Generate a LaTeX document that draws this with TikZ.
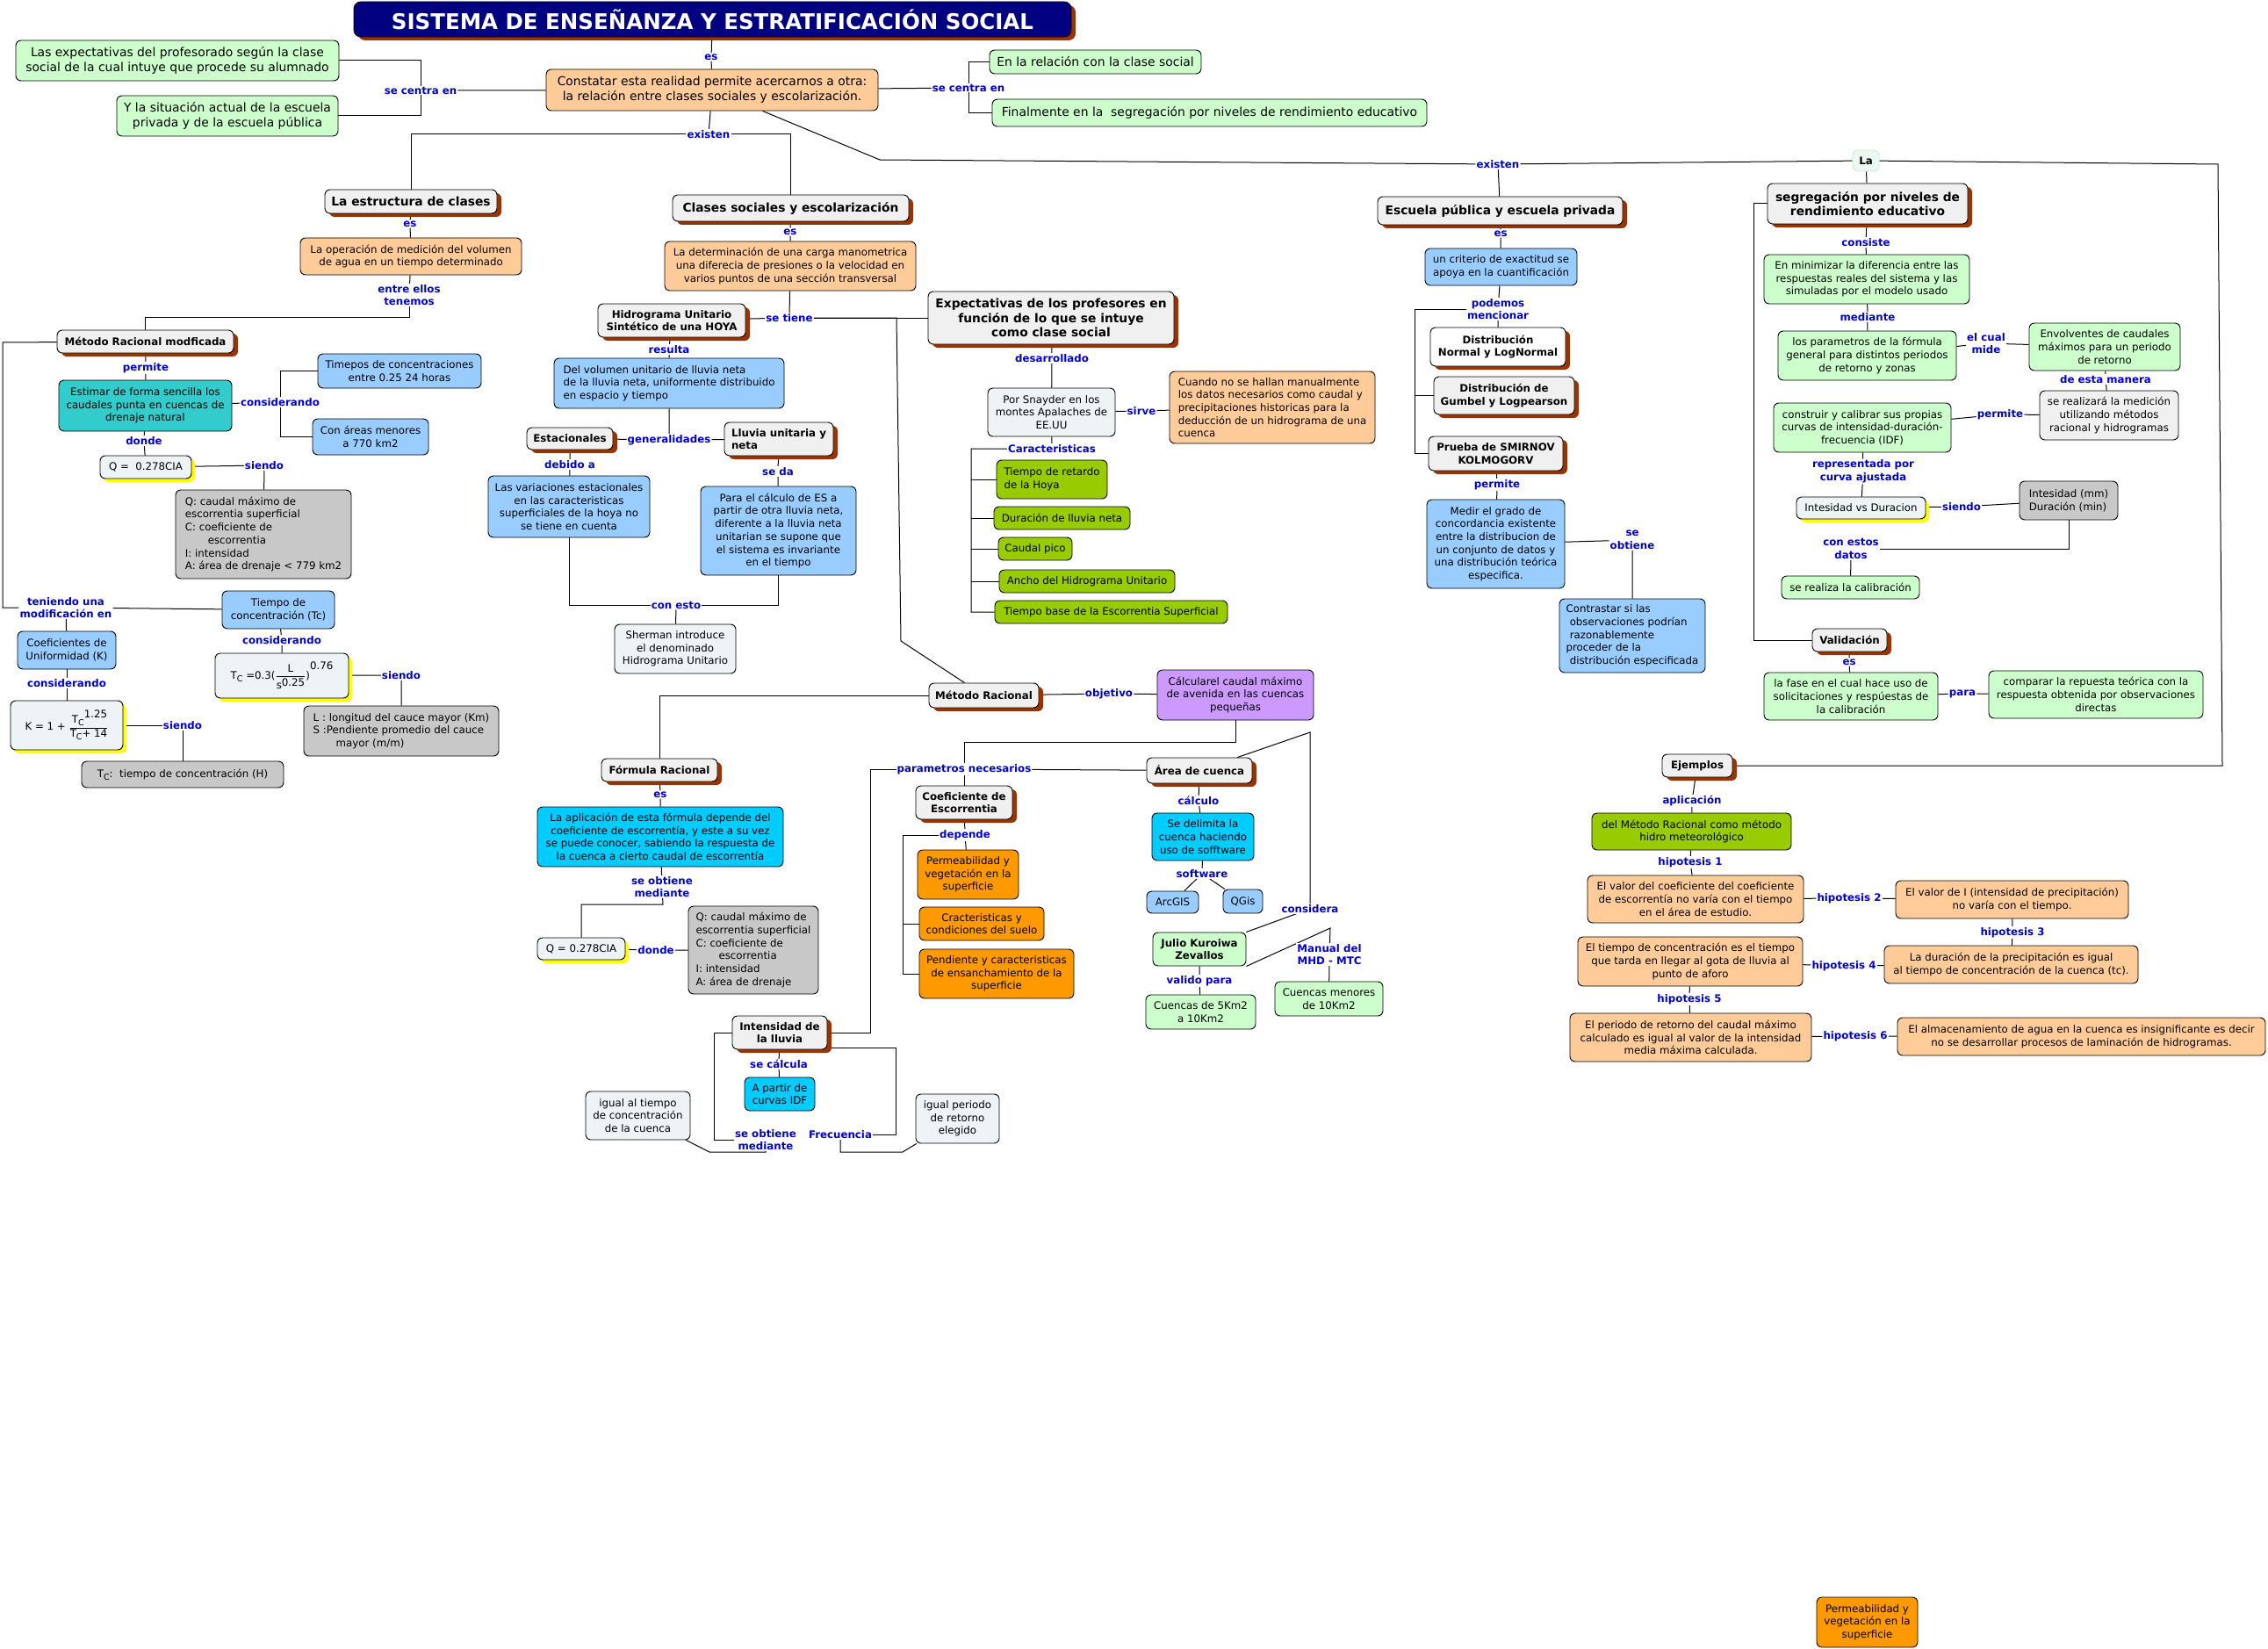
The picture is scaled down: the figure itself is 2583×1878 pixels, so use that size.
\documentclass[tikz,border=0pt]{standalone}
\usepackage{amsmath}
\usepackage{fontspec}
\setmainfont{DejaVu Sans}
\usetikzlibrary{shadows,backgrounds}
\definecolor{ttlnavy}{RGB}{0,0,128}
\definecolor{shbrown}{RGB}{153,51,0}
\definecolor{shyel}{RGB}{255,255,0}
\definecolor{labblue}{RGB}{0,0,204}
\definecolor{cptgray}{RGB}{240,240,240}
\definecolor{cgreen}{RGB}{204,255,204}
\definecolor{corange}{RGB}{255,204,153}
\definecolor{cblue}{RGB}{153,204,255}
\definecolor{cteal}{RGB}{51,204,204}
\definecolor{cgray}{RGB}{200,200,200}
\definecolor{cpale}{RGB}{238,244,245}
\definecolor{cylg}{RGB}{153,204,0}
\definecolor{cdorange}{RGB}{255,153,0}
\definecolor{ccyan}{RGB}{0,204,255}
\definecolor{cpurple}{RGB}{204,153,255}
\definecolor{lapale}{RGB}{236,248,241}
\definecolor{laedge}{RGB}{200,238,210}
\newcommand\cmnorm{\fontsize{11.8}{14.7}\selectfont}
\newcommand\cmbig{\fontsize{13.9}{17}\selectfont}
\newcommand\cmcon{\fontsize{13.8}{16.8}\selectfont\bfseries}
\newcommand\cmttl{\fontsize{24.5}{28}\selectfont\bfseries}
\newcommand\cmsubc{\raisebox{-3pt}{\fontsize{9.5}{10}\selectfont C}}

\begin{document}
\begin{tikzpicture}[x=1pt, y=-1pt,
    bx/.style={draw=black, line width=0.9pt, rounded corners=6pt, align=center,
               inner xsep=3pt, inner ysep=2pt, font=\cmnorm},
    bsh/.style={drop shadow={shadow xshift=5pt, shadow yshift=-4pt, fill=shbrown, opacity=1}},
    ysh/.style={drop shadow={shadow xshift=4pt, shadow yshift=-4pt, fill=shyel, opacity=1}},
    cpt/.style={bx, fill=cptgray, font=\cmnorm\bfseries, bsh},
    cptb/.style={cpt, font=\cmcon},
    grn/.style={bx, fill=cgreen},
    org/.style={bx, fill=corange},
    blu/.style={bx, fill=cblue},
    gry/.style={bx, fill=cgray, align=left},
    pal/.style={bx, fill=cpale},
    ylg/.style={bx, fill=cylg},
    dor/.style={bx, fill=cdorange},
    cyn/.style={bx, fill=ccyan},
    lab/.style={font=\cmnorm\bfseries, text=labblue, fill=white, inner sep=1pt, align=center},
    link/.style={draw=black, line width=1pt}]
  \useasboundingbox (0,0) rectangle (2583,1878);

  % titulo y primer nivel
  \node[bx, fill=ttlnavy, text=white, font=\cmttl, rounded corners=8pt, bsh, minimum width=817pt, minimum height=40pt] (title) at (811.5,22) {SISTEMA DE ENSEÑANZA Y ESTRATIFICACIÓN SOCIAL};
  \node[grn, font=\cmbig, minimum width=368pt, minimum height=46pt] (exp1) at (202,69) {Las expectativas del profesorado según la clase\\social de la cual intuye que procede su alumnado};
  \node[grn, font=\cmbig, minimum width=252pt, minimum height=46pt] (sit) at (259,132) {Y la situación actual de la escuela\\privada y de la escuela pública};
  \node[org, font=\cmbig, minimum width=378pt, minimum height=47pt] (const) at (811,102.5) {Constatar esta realidad permite acercarnos a otra:\\la relación entre clases sociales y escolarización.};
  \node[grn, font=\cmbig, minimum width=241pt, minimum height=27pt] (rel) at (1247.5,70.5) {En la relación con la clase social};
  \node[grn, font=\cmbig, minimum width=495pt, minimum height=31pt] (fin) at (1377.5,128.5) {Finalmente en la\ \ segregación por niveles de rendimiento educativo};
  \node[lab] (les) at (810,65) {es};
  \node[lab] (lcentra) at (479,103) {se centra en};
  \node[lab] (rcentra) at (1103,100) {se centra en};
  \node[lab] (lexist) at (807,153) {existen};
  \node[lab] (rexist) at (1706,187) {existen};
  \node[cptb, minimum width=196pt, minimum height=27pt] (estr) at (468,229.5) {La estructura de clases};
  \node[cptb, minimum width=269pt, minimum height=30pt] (clas) at (900.5,237) {Clases sociales y escolarización};
  \node[cptb, minimum width=279pt, minimum height=32pt] (escu) at (1708.5,240) {Escuela pública y escuela privada};
  \node[bx, fill=lapale, draw=laedge, font=\cmnorm\bfseries, minimum width=30pt, minimum height=24pt] (lanode) at (2125,183) {La};
  \node[cptb, minimum width=228pt, minimum height=46pt] (segr) at (2127,232) {segregación por niveles de\\rendimiento educativo};

  % columna izquierda
  \node[lab] (les1) at (467,255) {es};
  \node[org, minimum width=252pt, minimum height=42pt] (operac) at (468,292) {La operación de medición del volumen\\de agua en un tiempo determinado};
  \node[lab] (lentre) at (466,336) {entre ellos\\tenemos};
  \node[cpt, minimum width=201pt, minimum height=26pt] (mrm) at (165.5,389) {Método Racional modficada};
  \node[lab] (lpermite1) at (166,419) {permite};
  \node[bx, fill=cteal, minimum width=197pt, minimum height=58pt] (estim) at (165.5,462) {Estimar de forma sencilla los\\caudales punta en cuencas de\\drenaje natural};
  \node[lab] (lconsid1) at (319,458) {considerando};
  \node[blu, minimum width=186pt, minimum height=39pt] (timep) at (455,422.5) {Timepos de concentraciones\\entre 0.25 24 horas};
  \node[blu, minimum width=132pt, minimum height=41pt] (conar) at (422,497.5) {Con áreas menores\\a 770 km2};
  \node[lab] (ldonde1) at (164,502) {donde};
  \node[pal, ysh, minimum width=104pt, minimum height=26pt] (q1) at (166,532) {Q =\ \ 0.278CIA};
  \node[lab] (lsiendo1) at (301,530) {siendo};
  \node[gry, minimum width=200pt, minimum height=101pt] (qdef1) at (300,608.5) {Q: caudal máximo de\\escorrentia superficial\\C: coeficiente de\\\hspace*{2.2em}escorrentia\\I: intensidad\\A: área de drenaje < 779 km2};
  \node[lab] (lteniendo) at (75,692) {teniendo una\\modificación en};
  \node[blu, minimum width=128pt, minimum height=43pt] (tconc) at (317,694.5) {Tiempo de\\concentración (Tc)};
  \node[lab] (lconsid2) at (321,729) {considerando};
  \node[pal, ysh, minimum width=152pt, minimum height=51pt] (tcform) at (321,769.5) {T\cmsubc\ =0.3($\dfrac{\text{L}}{\text{\raisebox{-3pt}{s}0.25}}$)\raisebox{11pt}{0.76}};
  \node[lab] (lsiendo2) at (457,769) {siendo};
  \node[gry, minimum width=222pt, minimum height=57pt] (ldef) at (457,832.5) {L : longitud del cauce mayor (Km)\\S :Pendiente promedio del cauce\\\hspace*{2.2em}mayor (m/m)};
  \node[blu, minimum width=112pt, minimum height=43pt] (coefu) at (76,740.5) {Coeficientes de\\Uniformidad (K)};
  \node[lab] (lconsid3) at (76,778) {considerando};
  \node[pal, ysh, minimum width=128pt, minimum height=56pt] (kform) at (76,826) {K = 1 + $\dfrac{\text{\,T\cmsubc\raisebox{6pt}{1.25}}}{\text{T\cmsubc+ 14}}$};
  \node[lab] (lsiendo3) at (208,826) {siendo};
  \node[gry, minimum width=230pt, minimum height=30pt] (tcdef) at (208,882) {T\cmsubc:\ \ tiempo de concentración (H)};

  % columna central
  \node[lab] (les2) at (900,264) {es};
  \node[org, minimum width=286pt, minimum height=56pt] (determ) at (900,303) {La determinación de una carga manometrica\\una diferecia de presiones o la velocidad en\\varios puntos de una sección transversal};
  \node[lab] (lsetiene) at (899,362) {se tiene};
  \node[cpt, minimum width=168pt, minimum height=38pt] (hidro) at (765,365) {Hidrograma Unitario\\Sintético de una HOYA};
  \node[cptb, minimum width=280pt, minimum height=60pt] (expec) at (1197,362) {Expectativas de los profesores en\\función de lo que se intuye\\como clase social};
  \node[lab] (lresulta) at (762,398) {resulta};
  \node[blu, align=left, minimum width=262pt, minimum height=57pt] (delvol) at (762,436.5) {Del volumen unitario de lluvia neta\\de la lluvia neta, uniformente distribuido\\en espacio y tiempo};
  \node[lab] (lgeneral) at (762,501) {generalidades};
  \node[cpt, minimum width=98pt, minimum height=25pt] (estac) at (649,499.5) {Estacionales};
  \node[cpt, align=left, minimum width=124pt, minimum height=38pt] (lluvia) at (887,500) {Lluvia unitaria y\\neta};
  \node[lab] (ldebido) at (649,529) {debido a};
  \node[blu, minimum width=184pt, minimum height=70pt] (variac) at (648,577) {Las variaciones estacionales\\en las caracteristicas\\superficiales de la hoya no\\se tiene en cuenta};
  \node[lab] (lseda) at (886,537) {se da};
  \node[blu, minimum width=177pt, minimum height=101pt] (paracalc) at (886.5,604.5) {Para el cálculo de ES a\\partir de otra lluvia neta,\\diferente a la lluvia neta\\unitarian se supone que\\el sistema es invariante\\en el tiempo};
  \node[lab] (lconesto) at (770,689) {con esto};
  \node[pal, minimum width=138pt, minimum height=56pt] (sherman) at (769,739) {Sherman introduce\\el denominado\\Hidrograma Unitario};
  \node[lab] (ldesarr) at (1198,408) {desarrollado};
  \node[pal, minimum width=145pt, minimum height=55pt] (snay) at (1197.5,469.5) {Por Snayder en los\\montes Apalaches de\\EE.UU};
  \node[lab] (lsirve) at (1300,468) {sirve};
  \node[org, align=left, minimum width=234pt, minimum height=82pt] (cuando) at (1449,464) {Cuando no se hallan manualmente\\los datos necesarios como caudal y\\precipitaciones historicas para la\\deducción de un hidrograma de una\\cuenca};
  \node[lab] (lcaract) at (1198,511) {Caracteristicas};
  \node[ylg, align=left, minimum width=126pt, minimum height=44pt] (c1) at (1198,546) {Tiempo de retardo\\de la Hoya};
  \node[ylg, minimum width=155pt, minimum height=26pt] (c2) at (1209.5,590) {Duración de lluvia neta};
  \node[ylg, minimum width=84pt, minimum height=26pt] (c3) at (1179,625) {Caudal pico};
  \node[ylg, minimum width=200pt, minimum height=26pt] (c4) at (1238,662) {Ancho del Hidrograma Unitario};
  \node[ylg, minimum width=265pt, minimum height=26pt] (c5) at (1265.5,697) {Tiempo base de la Escorrentia Superficial};
  \node[cpt, minimum width=125pt, minimum height=28pt] (metr) at (1120.5,792) {Método Racional};
  \node[lab] (lobjet) at (1263,790) {objetivo};
  \node[bx, fill=cpurple, minimum width=178pt, minimum height=57pt] (calcul) at (1407,791.5) {Cálcularel caudal máximo\\de avenida en las cuencas\\pequeñas};
  \node[lab] (lparam) at (1098,876) {parametros necesarios};
  \node[cpt, minimum width=132pt, minimum height=26pt] (formr) at (751,877) {Fórmula Racional};
  \node[lab] (les5) at (752,905) {es};
  \node[cyn, minimum width=280pt, minimum height=68pt] (aplic) at (752,953) {La aplicación de esta fórmula depende del\\coeficiente de escorrentía, y este a su vez\\se puede conocer, sabiendo la respuesta de\\la cuenca a cierto caudal de escorrentía};
  \node[lab] (lseobt2) at (754,1010) {se obtiene\\mediante};
  \node[pal, ysh, minimum width=100pt, minimum height=25pt] (q2) at (662,1080.5) {Q = 0.278CIA};
  \node[lab] (ldonde2) at (747,1082) {donde};
  \node[gry, minimum width=148pt, minimum height=100pt] (qdef2) at (858,1082) {Q: caudal máximo de\\escorrentia superficial\\C: coeficiente de\\\hspace*{2.2em}escorrentia\\I: intensidad\\A: área de drenaje};
  \node[cpt, minimum width=110pt, minimum height=38pt] (coefe) at (1098,914) {Coeficiente de\\Escorrentia};
  \node[lab] (ldepende) at (1099,951) {depende};
  \node[dor, minimum width=115pt, minimum height=56pt] (perm) at (1102.5,996) {Permeabilidad y\\vegetación en la\\superficie};
  \node[dor, minimum width=142pt, minimum height=38pt] (cract) at (1118,1052) {Cracteristicas y\\condiciones del suelo};
  \node[dor, minimum width=176pt, minimum height=56pt] (pend) at (1135,1109) {Pendiente y caracteristicas\\de ensanchamiento de la\\superficie};
  \node[cpt, minimum width=108pt, minimum height=38pt] (intens) at (888,1176) {Intensidad de\\la lluvia};
  \node[lab] (lsecalc) at (887,1212) {se cálcula};
  \node[cyn, minimum width=80pt, minimum height=38pt] (apart) at (888,1246) {A partir de\\curvas IDF};
  \node[lab] (lseobt3) at (872,1298) {se obtiene\\mediante};
  \node[pal, minimum width=119pt, minimum height=55pt] (igualt) at (726.5,1270.5) {igual al tiempo\\de concentración\\de la cuenca};
  \node[lab] (lfrec) at (957,1292) {Frecuencia};
  \node[pal, minimum width=95pt, minimum height=56pt] (igualp) at (1090.5,1274) {igual periodo\\de retorno\\elegido};
  \node[cpt, minimum width=120pt, minimum height=29pt] (area) at (1366,877.5) {Área de cuenca};
  \node[lab] (lcalculo) at (1365,912) {cálculo};
  \node[cyn, minimum width=116pt, minimum height=54pt] (delim) at (1370,953) {Se delimita la\\cuenca haciendo\\uso de sofftware};
  \node[lab] (lsoft) at (1369,995) {software};
  \node[blu, minimum width=59pt, minimum height=25pt] (arcgis) at (1335.5,1027.5) {ArcGIS};
  \node[blu, minimum width=45pt, minimum height=27pt] (qgis) at (1415.5,1026.5) {QGis};
  \node[lab] (lconsid) at (1492,1035) {considera};
  \node[grn, font=\cmnorm\bfseries, minimum width=106pt, minimum height=38pt] (julio) at (1366,1081) {Julio Kuroiwa\\Zevallos};
  \node[lab] (lvalido) at (1366,1117) {valido para};
  \node[grn, minimum width=125pt, minimum height=39pt] (cuen5) at (1367.5,1152.5) {Cuencas de 5Km2\\a 10Km2};
  \node[lab] (lmanual) at (1514,1087) {Manual del\\MHD - MTC};
  \node[grn, minimum width=123pt, minimum height=39pt] (cuen10) at (1513.5,1137.5) {Cuencas menores\\de 10Km2};

  % escuela publica y privada
  \node[lab] (les3) at (1709,266) {es};
  \node[blu, minimum width=173pt, minimum height=42pt] (criter) at (1709.5,304) {un criterio de exactitud se\\apoya en la cuantificación};
  \node[lab] (lpodemos) at (1706,352) {podemos\\mencionar};
  \node[bx, fill=white, font=\cmnorm\bfseries, bsh, minimum width=154pt, minimum height=44pt] (dnorm) at (1706,395) {Distribución\\Normal y LogNormal};
  \node[cpt, minimum width=160pt, minimum height=43pt] (dgumb) at (1713,450.5) {Distribución de\\Gumbel y Logpearson};
  \node[cpt, minimum width=153pt, minimum height=39pt] (smir) at (1703.5,516.5) {Prueba de SMIRNOV\\KOLMOGORV};
  \node[lab] (lpermite3) at (1705,552) {permite};
  \node[blu, minimum width=157pt, minimum height=101pt] (medir) at (1703.5,619.5) {Medir el grado de\\concordancia existente\\entre la distribucion de\\un conjunto de datos y\\una distribución teórica\\especifica.};
  \node[lab] (lseobt) at (1859,615) {se\\obtiene};
  \node[blu, align=left, minimum width=166pt, minimum height=84pt] (contr) at (1859,724) {Contrastar si las\\\hspace*{0.35em}observaciones podrían\\\hspace*{0.35em}razonablemente\\proceder de la\\\hspace*{0.35em}distribución especificada};

  % segregacion
  \node[lab] (lconsiste) at (2125,276) {consiste};
  \node[grn, minimum width=234pt, minimum height=56pt] (minim) at (2126,318) {En minimizar la diferencia entre las\\respuestas reales del sistema y las\\simuladas por el modelo usado};
  \node[lab] (lmediante) at (2127,361) {mediante};
  \node[grn, minimum width=203pt, minimum height=56pt] (param) at (2126.5,405) {los parametros de la fórmula\\general para distintos periodos\\de retorno y zonas};
  \node[lab] (lcualmide) at (2262,391) {el cual\\mide};
  \node[grn, minimum width=172pt, minimum height=54pt] (envol) at (2397,395) {Envolventes de caudales\\máximos para un periodo\\de retorno};
  \node[lab] (lmanera) at (2398,432) {de esta manera};
  \node[bx, fill=cptgray, minimum width=158pt, minimum height=56pt] (realiz) at (2402,473) {se realizará la medición\\utilizando métodos\\racional y hidrogramas};
  \node[grn, minimum width=202pt, minimum height=56pt] (constr) at (2121,487) {construir y calibrar sus propias\\curvas de intensidad-duración-\\frecuencia (IDF)};
  \node[lab] (lpermite2) at (2278,472) {permite};
  \node[lab] (lrepres) at (2122,537) {representada por\\curva ajustada};
  \node[pal, ysh, minimum width=147pt, minimum height=25pt] (ivsd) at (2119.5,578.5) {Intesidad vs Duracion};
  \node[lab] (lsiendo4) at (2234,577) {siendo};
  \node[gry, minimum width=112pt, minimum height=44pt] (intmm) at (2356,570) {Intesidad (mm)\\Duración (min)};
  \node[lab] (lconestos) at (2108,625) {con estos\\datos};
  \node[grn, minimum width=157pt, minimum height=26pt] (calib) at (2107.5,669) {se realiza la calibración};
  \node[cpt, minimum width=85pt, minimum height=26pt] (valid) at (2106.5,729) {Validación};
  \node[lab] (les4) at (2106,754) {es};
  \node[grn, minimum width=198pt, minimum height=54pt] (fase) at (2108,793) {la fase en el cual hace uso de\\solicitaciones y respúestas de\\la calibración};
  \node[lab] (lpara) at (2235,790) {para};
  \node[grn, minimum width=244pt, minimum height=54pt] (compar) at (2387,791) {comparar la repuesta teórica con la\\respuesta obtenida por observaciones\\directas};

  % ejemplos e hipotesis
  \node[cpt, minimum width=80pt, minimum height=26pt] (ejem) at (1933,872) {Ejemplos};
  \node[lab] (laplic) at (1927,912) {aplicación};
  \node[ylg, minimum width=227pt, minimum height=42pt] (ejmr) at (1926.5,947) {del Método Racional como método\\hidro meteorológico};
  \node[lab] (lh1) at (1925,982) {hipotesis 1};
  \node[org, minimum width=246pt, minimum height=54pt] (h1box) at (1931,1024) {El valor del coeficiente del coeficiente\\de escorrentía no varía con el tiempo\\en el área de estudio.};
  \node[lab] (lh2) at (2106,1023) {hipotesis 2};
  \node[org, minimum width=265pt, minimum height=43pt] (h2box) at (2291.5,1024.5) {El valor de I (intensidad de precipitación)\\no varía con el tiempo.};
  \node[lab] (lh3) at (2292,1062) {hipotesis 3};
  \node[org, minimum width=289pt, minimum height=43pt] (h3box) at (2290.5,1098.5) {La duración de la precipitación es igual\\al tiempo de concentración de la cuenca (tc).};
  \node[lab] (lh4) at (2100,1100) {hipotesis 4};
  \node[org, minimum width=256pt, minimum height=56pt] (h4box) at (1925,1095) {El tiempo de concentración es el tiempo\\que tarda en llegar al gota de lluvia al\\punto de aforo};
  \node[lab] (lh5) at (1924,1138) {hipotesis 5};
  \node[org, minimum width=275pt, minimum height=55pt] (h5box) at (1925.5,1181.5) {El periodo de retorno del caudal máximo\\calculado es igual al valor de la intensidad\\media máxima calculada.};
  \node[lab] (lh6) at (2113,1180) {hipotesis 6};
  \node[org, minimum width=419pt, minimum height=43pt] (h6box) at (2370.5,1180.5) {El almacenamiento de agua en la cuenca es insignificante es decir\\no se desarrollar procesos de laminación de hidrogramas.};
  \node[dor, minimum width=115pt, minimum height=57pt] (permbr) at (2126.5,1847.5) {Permeabilidad y\\vegetación en la\\superficie};

  % puntos de quiebre
  \coordinate (kA) at (1002,182);
  \coordinate (kB) at (2526,187);
  \coordinate (kC) at (2531,872);
  \coordinate (kD) at (1997,232);
  \coordinate (kE) at (1611,352);
  \coordinate (kF) at (466,361);
  \coordinate (kG) at (3,390);
  \coordinate (kH) at (1021,362);
  \coordinate (kI) at (1026,730);
  \coordinate (kJ) at (1106,511);
  \coordinate (kK) at (1098,845);
  \coordinate (kL) at (991,876);
  \coordinate (kM) at (755,1030);
  \coordinate (kN) at (1028,951);
  \coordinate (kO) at (813,1176);
  \coordinate (kP) at (808,1312);
  \coordinate (kQ) at (1020,1193);
  \coordinate (kR) at (1028,1312);
  \coordinate (kS) at (1492,834);
  \coordinate (kT) at (1515,1057);

  \begin{pgfonlayer}{background}
    \fill[white] (0,0) rectangle (2583,1878);
    % arriba
    \draw[link] (title) -- (les) -- (const);
    \draw[link] (exp1.east) -| (lcentra);
    \draw[link] (sit.east) -| (lcentra);
    \draw[link] (lcentra) -- (const);
    \draw[link] (const) -- (rcentra);
    \draw[link] (rel.west) -| (rcentra);
    \draw[link] (fin.west) -| (rcentra);
    \draw[link] (const) -- (lexist);
    \draw[link] (lexist) -| (estr);
    \draw[link] (lexist) -| (clas);
    \draw[link] (const) -- (kA) -- (rexist);
    \draw[link] (rexist) -- (escu);
    \draw[link] (rexist) -- (lanode);
    \draw[link] (lanode) -- (segr);
    \draw[link] (lanode) -- (kB) -- (kC) -- (ejem);
    % izquierda
    \draw[link] (estr) -- (les1) -- (operac) -- (lentre);
    \draw[link] (lentre) -- (kF) -| (mrm);
    \draw[link] (mrm) -- (kG) |- (lteniendo);
    \draw[link] (lteniendo) -- (tconc);
    \draw[link] (lteniendo) -- (coefu);
    \draw[link] (mrm) -- (lpermite1) -- (estim) -- (ldonde1) -- (q1);
    \draw[link] (estim) -- (lconsid1);
    \draw[link] (lconsid1) |- (timep);
    \draw[link] (lconsid1) |- (conar);
    \draw[link] (q1) -- (lsiendo1) -- (qdef1);
    \draw[link] (tconc) -- (lconsid2) -- (tcform) -- (lsiendo2) -- (ldef);
    \draw[link] (coefu) -- (lconsid3) -- (kform) -- (lsiendo3) -- (tcdef);
    % centro
    \draw[link] (clas) -- (les2) -- (determ) -- (lsetiene);
    \draw[link] (lsetiene) -- (hidro);
    \draw[link] (lsetiene) -- (expec);
    \draw[link] (lsetiene) -- (kH) -- (kI) -- (metr);
    \draw[link] (hidro) -- (lresulta) -- (delvol) -- (lgeneral);
    \draw[link] (estac) -- (lgeneral) -- (lluvia);
    \draw[link] (estac) -- (ldebido) -- (variac);
    \draw[link] (lluvia) -- (lseda) -- (paracalc);
    \draw[link] (variac) |- (lconesto);
    \draw[link] (paracalc) |- (lconesto);
    \draw[link] (lconesto) -- (sherman);
    \draw[link] (expec) -- (ldesarr) -- (snay) -- (lsirve) -- (cuando);
    \draw[link] (snay) -- (lcaract) -- (kJ) |- (c5);
    \draw[link] (kJ |- c1) -- (c1);
    \draw[link] (kJ |- c2) -- (c2);
    \draw[link] (kJ |- c3) -- (c3);
    \draw[link] (kJ |- c4) -- (c4);
    \draw[link] (metr) -- (lobjet) -- (calcul);
    \draw[link] (calcul) |- (kK) -- (lparam);
    \draw[link] (lparam) -- (area);
    \draw[link] (lparam) -- (coefe);
    \draw[link] (lparam) -- (kL) |- (intens);
    \draw[link] (metr) -| (formr);
    \draw[link] (formr) -- (les5) -- (aplic) -- (lseobt2);
    \draw[link] (lseobt2) -- (kM) -| (q2);
    \draw[link] (q2) -- (ldonde2) -- (qdef2);
    \draw[link] (coefe) -- (ldepende) -- (perm);
    \draw[link] (ldepende) -- (kN) |- (pend);
    \draw[link] (kN |- cract) -- (cract);
    \draw[link] (intens) -- (lsecalc) -- (apart);
    \draw[link] (intens) -- (kO) |- (lseobt3);
    \draw[link] (lseobt3) |- (kP) -- (igualt);
    \draw[link] (intens.east |- kQ) -- (kQ) |- (lfrec);
    \draw[link] (lfrec) |- (kR) -- (igualp);
    \draw[link] (area) -- (lcalculo) -- (delim) -- (lsoft);
    \draw[link] (lsoft) -- (arcgis);
    \draw[link] (lsoft) -- (qgis);
    \draw[link] (area) -- (kS) -- (lconsid);
    \draw[link] (lconsid) -- (julio);
    \draw[link] (julio.south east) -- (kT) -- (lmanual);
    \draw[link] (lmanual) -- (cuen10);
    \draw[link] (julio) -- (lvalido) -- (cuen5);
    % derecha
    \draw[link] (escu) -- (les3) -- (criter) -- (lpodemos) -- (dnorm);
    \draw[link] (lpodemos) -- (kE) |- (smir);
    \draw[link] (kE |- dgumb) -- (dgumb);
    \draw[link] (smir) -- (lpermite3) -- (medir) -- (lseobt) -- (contr);
    \draw[link] (segr) -- (lconsiste) -- (minim) -- (lmediante) -- (param) -- (lcualmide) -- (envol) -- (lmanera) -- (realiz);
    \draw[link] (constr) -- (lpermite2) -- (realiz);
    \draw[link] (constr) -- (lrepres) -- (ivsd) -- (lsiendo4) -- (intmm);
    \draw[link] (intmm) |- (lconestos);
    \draw[link] (lconestos) -- (calib);
    \draw[link] (segr) -- (kD) |- (valid);
    \draw[link] (valid) -- (les4) -- (fase) -- (lpara) -- (compar);
    \draw[link] (ejem) -- (laplic) -- (ejmr) -- (lh1) -- (h1box) -- (lh2) -- (h2box) -- (lh3) -- (h3box) -- (lh4) -- (h4box) -- (lh5) -- (h5box) -- (lh6) -- (h6box);
  \end{pgfonlayer}
\end{tikzpicture}
\end{document}
